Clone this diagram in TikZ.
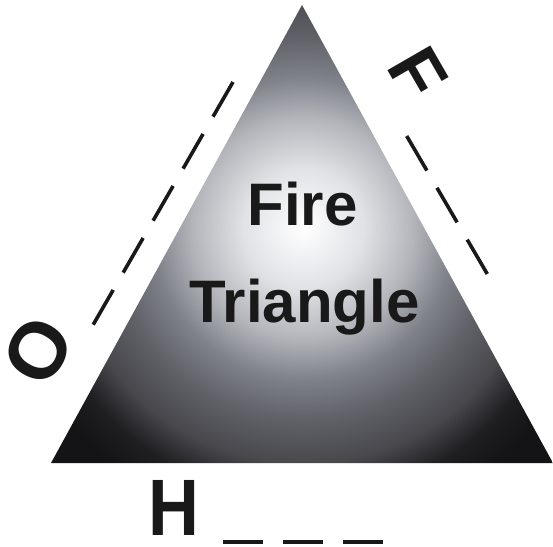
\documentclass[tikz,border=0pt]{standalone}
\usepackage{fontspec}
\setmainfont{Liberation Sans}
\definecolor{ink}{gray}{0.1}
\definecolor{sA}{rgb}{0.88,0.885,0.90}
\definecolor{sB}{rgb}{0.70,0.71,0.73}
\definecolor{sC}{rgb}{0.50,0.51,0.54}
\definecolor{sD}{rgb}{0.38,0.385,0.41}
\definecolor{sE}{rgb}{0.28,0.28,0.30}
\definecolor{sF}{rgb}{0.12,0.12,0.13}
\definecolor{sG}{rgb}{0.08,0.08,0.085}
% radii given directly in picture units (1bp ~ 1px)
\pgfdeclareradialshading{fireshade}{\pgfpoint{0bp}{0bp}}{%
  color(0bp)=(white); color(60bp)=(sA); color(110bp)=(sB);
  color(150bp)=(sC); color(190bp)=(sD); color(235bp)=(sE);
  color(270bp)=(sF); color(300bp)=(sG); color(400bp)=(sG)}
\begin{document}
\begin{tikzpicture}[x=1pt,y=-1pt,
  dashline/.style={draw=ink,line width=3.6pt,dash pattern=on 40pt off 20pt},
  bigtext/.style={text=ink,font=\bfseries\fontsize{60}{72}\selectfont,inner sep=0pt},
  letter/.style={text=ink,font=\bfseries\fontsize{80}{90}\selectfont,inner sep=0pt}]
\useasboundingbox (0,0) rectangle (553,546);
% triangle corners
\coordinate (apex) at (302,5);
\coordinate (bl) at (51,463);
\coordinate (br) at (553,463);
\begin{scope}
  \clip (apex) -- (bl) -- (br) -- cycle;
  \pgflowlevelobj{\pgftransformshift{\pgfpoint{303pt}{-228pt}}}{\pgfuseshading{fireshade}}
\end{scope}
% title text
\node[bigtext,anchor=base] (fire) at (302.5,225) {Fire};
\node[bigtext,anchor=base] (tri) at (304.5,322) {Triangle};
% side letters
\node[letter,rotate=-60,font=\bfseries\fontsize{72}{80}\selectfont] (F) at (418,73) {F};
\node[letter,rotate=60] (O) at (38,351) {O};
\node[letter,anchor=base,xscale=0.88] (H) at (173.5,535) {H};
% blanks
\coordinate (o1) at (233,82);
\coordinate (o2) at (93,325);
\coordinate (f1) at (406.7,136);
\coordinate (f2) at (487.3,274);
\coordinate (h1) at (223,542);
\coordinate (h2) at (383,542);
\draw[dashline] (o1) -- (o2);
\draw[dashline] (f1) -- (f2);
\draw[dashline,line width=3.4pt] (h1) -- (h2);
\end{tikzpicture}
\end{document}
